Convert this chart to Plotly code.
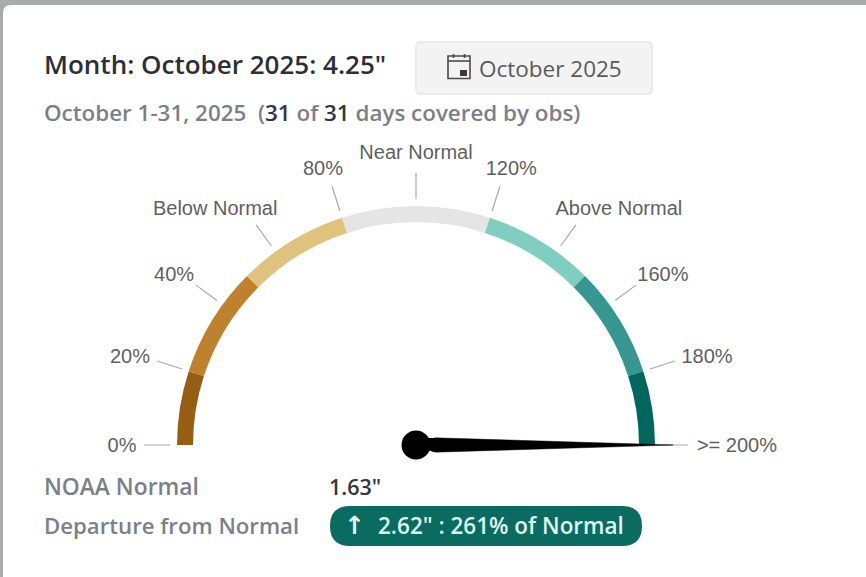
import plotly.graph_objects as go

W, H = 866, 577
# gauge data
band_start = [0, 20, 50, 80, 120, 150, 180]
band_end = [20, 50, 80, 120, 150, 180, 200]
band_colors = ["#955e12", "#bf812d", "#dfc27d", "#e5e5e5", "#80cdc1", "#35978f", "#01665e"]
tick_pct = [0, 20, 40, 60, 80, 100, 120, 140, 160, 180, 200]
tick_labels = ["0%", "20%", "40%", "Below Normal", "80%", "Near Normal", "120%",
               "Above Normal", "160%", "180%", ">= 200%"]
label_r = [294, 299, 295, 309.2, 290.3, 291, 291, 310.5, 299.3, 303.7, 321]
label_theta = [-0.4, 16.9, 34.9, 49.5, 71.3, 90, 109.1, 130.8, 145.6, 163.4, 180.4]
needle_value = 200
MAX_PCT = 200

CX, CY, RANGE = 416, 445, 340
R_OUT, R_IN = 239, 223
TICK_IN, TICK_OUT = 246, 272
SECTOR_PAD = 22
SECTOR_DROP = 0.3746  # sin(22 deg)


def deg(p):
    return p * 180 / MAX_PCT


def px(x):
    return x / W


def py(y):
    return 1 - y / H


def rrect(x0, y0, x1, y1, r):
    X = lambda v: f"{px(v):.5f}"
    Y = lambda v: f"{py(v):.5f}"
    return (f"M {X(x0+r)} {Y(y0)} L {X(x1-r)} {Y(y0)} Q {X(x1)} {Y(y0)} {X(x1)} {Y(y0+r)} "
            f"L {X(x1)} {Y(y1-r)} Q {X(x1)} {Y(y1)} {X(x1-r)} {Y(y1)} "
            f"L {X(x0+r)} {Y(y1)} Q {X(x0)} {Y(y1)} {X(x0)} {Y(y1-r)} "
            f"L {X(x0)} {Y(y0+r)} Q {X(x0)} {Y(y0)} {X(x0+r)} {Y(y0)} Z")


fig = go.Figure()

fig.add_trace(go.Barpolar(
    r=[R_OUT - R_IN] * len(band_start),
    base=[R_IN] * len(band_start),
    theta=[deg((a + b) / 2) for a, b in zip(band_start, band_end)],
    width=[deg(b - a) for a, b in zip(band_start, band_end)],
    marker=dict(color=band_colors, line=dict(width=0)),
    hoverinfo="skip",
))

for p in tick_pct:
    fig.add_trace(go.Scatterpolar(
        r=[TICK_IN, TICK_OUT], theta=[deg(p), deg(p)], mode="lines",
        line=dict(color="#a8a8a8", width=1.2), hoverinfo="skip", cliponaxis=False,
    ))

fig.add_trace(go.Scatterpolar(
    r=label_r, theta=label_theta, mode="text", text=tick_labels,
    textposition="middle center",
    textfont=dict(family="Liberation Sans", size=20, color="#5f5f5f"),
    hoverinfo="skip", cliponaxis=False,
))

nt = deg(min(needle_value, MAX_PCT))
# tapered needle blade, then a stub joining it to the hub
fig.add_trace(go.Scatterpolar(
    r=[20, 257, 20, 20], theta=[nt - 21, nt, nt + 21, nt - 21],
    mode="lines", fill="toself", fillcolor="#000000",
    line=dict(color="#000000", width=0.5), hoverinfo="skip", cliponaxis=False,
))
fig.add_trace(go.Scatterpolar(
    r=[0, 20], theta=[nt, nt], mode="lines",
    line=dict(color="#000000", width=14), hoverinfo="skip", cliponaxis=False,
))
fig.add_trace(go.Scatterpolar(
    r=[0], theta=[nt], mode="markers",
    marker=dict(color="#000000", size=29), hoverinfo="skip", cliponaxis=False,
))

shapes = [
    dict(type="path", xref="paper", yref="paper", layer="below",
         path=rrect(3, 5, 900, 640, 8), fillcolor="#ffffff", line=dict(width=0)),
    dict(type="path", xref="paper", yref="paper", layer="below",
         path=rrect(416, 42, 652, 94, 4), fillcolor="#f3f3f3", line=dict(color="#e6e6e6", width=1.5)),
    dict(type="path", xref="paper", yref="paper", layer="below",
         path=rrect(330, 506, 642, 546, 20), fillcolor="#0a6b60", line=dict(width=0)),
    # calendar icon
    dict(type="rect", xref="paper", yref="paper", x0=px(448), x1=px(470), y0=py(56), y1=py(78.5),
         line=dict(color="#4a4a4a", width=1.6)),
    dict(type="line", xref="paper", yref="paper", x0=px(448), x1=px(470), y0=py(61), y1=py(61),
         line=dict(color="#4a4a4a", width=1.6)),
    dict(type="line", xref="paper", yref="paper", x0=px(453.5), x1=px(453.5), y0=py(54), y1=py(58),
         line=dict(color="#4a4a4a", width=1.6)),
    dict(type="line", xref="paper", yref="paper", x0=px(464.5), x1=px(464.5), y0=py(54), y1=py(58),
         line=dict(color="#4a4a4a", width=1.6)),
    dict(type="rect", xref="paper", yref="paper", x0=px(460), x1=px(467), y0=py(70), y1=py(76),
         fillcolor="#3a3a3a", line=dict(width=0)),
]


def note(x, y, text, size, color="#2b2f36", family="Open Sans", weight=600):
    return dict(xref="paper", yref="paper", x=px(x), y=py(y), text=text, showarrow=False,
                xanchor="left", yanchor="middle", align="left",
                font=dict(family=family, size=size, color=color, weight=weight))


GREY = "#7b8088"
DARK = "#32363c"
annotations = [
    note(42, 64, 'Month: October 2025: 4.25"', 26),
    note(477, 68, "October 2025", 22.5, "#5a5a5a", weight=400),
    note(42, 112, f'<span style="color:{GREY}">October 1-31, 2025  (</span>'
                  f'<span style="color:{DARK}">31</span>'
                  f'<span style="color:{GREY}"> of </span>'
                  f'<span style="color:{DARK}">31</span>'
                  f'<span style="color:{GREY}"> days covered by obs)</span>', 22.4, GREY),
    note(42, 486, "NOAA Normal", 22.8, GREY),
    note(327, 486, '1.63"', 21.5, DARK),
    note(42, 525, "Departure from Normal", 22.2, GREY),
    note(342, 525, '↑', 25, "#dff5f0", family="DejaVu Sans"),
    note(376, 525, '2.62" : 261% of Normal', 22.5, "#dff5f0"),
]

fig.update_layout(
    width=W, height=H, margin=dict(l=0, r=0, t=0, b=0),
    paper_bgcolor="#a6adab", showlegend=False,
    polar=dict(
        domain=dict(x=[px(CX - RANGE), px(CX + RANGE)],
                    y=[py(CY + SECTOR_DROP * RANGE), py(CY - RANGE)]),
        sector=[-SECTOR_PAD, 180 + SECTOR_PAD], bgcolor="rgba(0,0,0,0)", bargap=0,
        radialaxis=dict(range=[0, RANGE], visible=False),
        angularaxis=dict(visible=False, direction="clockwise", rotation=180),
    ),
    shapes=shapes, annotations=annotations,
)
fig.write_html("out.html", config=dict(displayModeBar=False),
               post_script="document.body.style.margin='0';document.body.style.overflow='hidden';")
